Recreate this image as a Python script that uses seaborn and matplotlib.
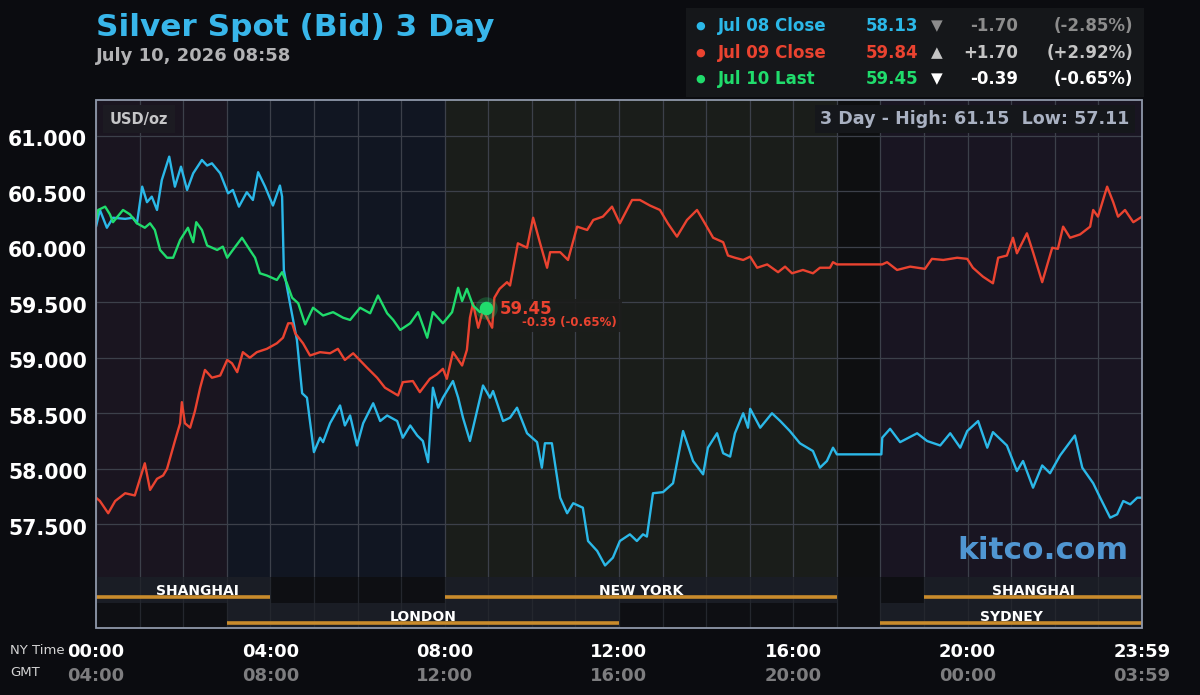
import matplotlib
matplotlib.use("Agg")
import numpy as np
import pandas as pd
import seaborn as sns
import matplotlib.pyplot as plt
import matplotlib.transforms as mtrans
from matplotlib.patches import Rectangle

# ---- data (hours NY time, USD/oz) ----
jul08_hours = [0.00, 0.09, 0.25, 0.39, 0.67, 0.85, 0.94, 1.06, 1.17, 1.28, 1.40, 1.51, 1.68, 1.81, 1.95,
               2.09, 2.23, 2.43, 2.55, 2.66, 2.85, 3.03, 3.14, 3.28, 3.46, 3.60, 3.72, 3.88, 4.06, 4.22,
               4.27, 4.31, 4.45, 4.61, 4.73, 4.84, 5.00, 5.14, 5.21, 5.37, 5.60, 5.71, 5.83, 5.99, 6.13,
               6.36, 6.52, 6.68, 6.91, 7.04, 7.21, 7.37, 7.50, 7.62, 7.73, 7.85, 7.96, 8.19, 8.31, 8.42,
               8.58, 8.88, 9.04, 9.11, 9.34, 9.50, 9.66, 9.89, 10.12, 10.23, 10.30, 10.46, 10.65, 10.81,
               10.95, 11.17, 11.29, 11.50, 11.68, 11.86, 12.02, 12.25, 12.41, 12.55, 12.64, 12.78, 13.01,
               13.24, 13.47, 13.70, 13.93, 14.04, 14.25, 14.39, 14.55, 14.66, 14.85, 14.96, 15.01, 15.24,
               15.51, 15.70, 15.92, 16.15, 16.45, 16.61, 16.77, 16.91, 17.00, 18.02, 18.04, 18.22, 18.45,
               18.84, 19.07, 19.37, 19.60, 19.83, 19.99, 20.24, 20.45, 20.58, 20.90, 21.13, 21.27, 21.50,
               21.71, 21.89, 22.12, 22.46, 22.63, 22.88, 23.04, 23.27, 23.43, 23.57, 23.73, 23.89, 24.00]
jul08_price = [60.18, 60.33, 60.17, 60.26, 60.25, 60.26, 60.21, 60.54, 60.40, 60.45, 60.33, 60.60, 60.81, 60.54, 60.72,
               60.51, 60.66, 60.78, 60.73, 60.75, 60.66, 60.48, 60.51, 60.36, 60.49, 60.42, 60.67, 60.54, 60.37, 60.55,
               60.45, 59.79, 59.49, 59.16, 58.68, 58.64, 58.15, 58.28, 58.24, 58.41, 58.57, 58.39, 58.48, 58.21, 58.41,
               58.59, 58.43, 58.48, 58.43, 58.28, 58.39, 58.30, 58.25, 58.06, 58.73, 58.55, 58.64, 58.79, 58.64, 58.46,
               58.25, 58.75, 58.64, 58.70, 58.43, 58.46, 58.55, 58.32, 58.24, 58.01, 58.23, 58.23, 57.74, 57.60,
               57.69, 57.65, 57.35, 57.26, 57.13, 57.20, 57.35, 57.41, 57.35, 57.41, 57.39, 57.78, 57.79,
               57.87, 58.34, 58.07, 57.95, 58.19, 58.32, 58.14, 58.11, 58.32, 58.50, 58.37, 58.54, 58.37,
               58.50, 58.43, 58.34, 58.23, 58.16, 58.01, 58.07, 58.19, 58.13, 58.13, 58.28, 58.36, 58.24,
               58.32, 58.25, 58.21, 58.32, 58.19, 58.34, 58.43, 58.19, 58.33, 58.21, 57.98, 58.07, 57.83,
               58.03, 57.96, 58.12, 58.30, 58.01, 57.87, 57.74, 57.56, 57.59, 57.71, 57.68, 57.74, 57.74]

jul09_hours = [0.00, 0.09, 0.28, 0.44, 0.67, 0.89, 1.12, 1.24, 1.40, 1.54, 1.63, 1.81, 1.93, 1.97, 2.04,
               2.16, 2.27, 2.39, 2.50, 2.66, 2.85, 3.01, 3.12, 3.24, 3.37, 3.53, 3.69, 3.92, 4.15, 4.29,
               4.41, 4.50, 4.57, 4.75, 4.91, 5.14, 5.37, 5.55, 5.71, 5.90, 6.22, 6.45, 6.63, 6.93, 7.04,
               7.27, 7.43, 7.66, 7.82, 7.96, 8.05, 8.19, 8.40, 8.51, 8.58, 8.65, 8.77, 8.88, 9.09, 9.14,
               9.26, 9.43, 9.50, 9.68, 9.89, 10.03, 10.19, 10.35, 10.42, 10.65, 10.83, 11.04, 11.27, 11.41, 11.63,
               11.84, 12.02, 12.30, 12.48, 12.71, 12.94, 13.12, 13.33, 13.56, 13.79, 13.97, 14.16, 14.39,
               14.50, 14.66, 14.85, 15.01, 15.17, 15.40, 15.65, 15.81, 15.97, 16.22, 16.45, 16.61, 16.84,
               16.91, 17.00, 18.04, 18.15, 18.38, 18.68, 19.02, 19.18, 19.44, 19.76, 19.99, 20.12, 20.35,
               20.58, 20.70, 20.90, 21.04, 21.13, 21.36, 21.50, 21.71, 21.94, 22.07, 22.19, 22.35, 22.58,
               22.81, 22.88, 22.99, 23.20, 23.34, 23.45, 23.61, 23.80, 24.00]
jul09_price = [57.74, 57.71, 57.60, 57.71, 57.78, 57.76, 58.05, 57.81, 57.91, 57.94, 58.00, 58.25, 58.41, 58.60, 58.41,
               58.37, 58.52, 58.73, 58.89, 58.82, 58.84, 58.98, 58.95, 58.87, 59.05, 59.00, 59.05, 59.08, 59.13, 59.18,
               59.31, 59.31, 59.22, 59.13, 59.02, 59.05, 59.04, 59.08, 58.98, 59.04, 58.91, 58.82, 58.73, 58.66, 58.78,
               58.79, 58.69, 58.81, 58.85, 58.90, 58.81, 59.05, 58.93, 59.07, 59.36, 59.49, 59.27, 59.43, 59.27, 59.54,
               59.62, 59.68, 59.65, 60.03, 59.99, 60.26, 60.03, 59.81, 59.95, 59.95, 59.88, 60.18, 60.15, 60.24, 60.27,
               60.36, 60.21, 60.42, 60.42, 60.37, 60.33, 60.21, 60.09, 60.24, 60.33, 60.21, 60.08, 60.04,
               59.92, 59.90, 59.88, 59.91, 59.81, 59.84, 59.77, 59.82, 59.76, 59.79, 59.76, 59.81, 59.81,
               59.86, 59.84, 59.84, 59.86, 59.79, 59.82, 59.80, 59.89, 59.88, 59.90, 59.89, 59.81, 59.73,
               59.67, 59.90, 59.92, 60.08, 59.94, 60.12, 59.95, 59.68, 59.99, 59.98, 60.18, 60.08, 60.11,
               60.18, 60.33, 60.27, 60.54, 60.40, 60.27, 60.33, 60.22, 60.27]

jul10_hours = [0.00, 0.05, 0.21, 0.32, 0.39, 0.62, 0.78, 0.94, 1.12, 1.24, 1.35, 1.47, 1.63, 1.77, 1.93,
               2.11, 2.23, 2.30, 2.43, 2.55, 2.78, 2.91, 3.01, 3.14, 3.35, 3.53, 3.65, 3.76, 3.92, 4.15,
               4.27, 4.38, 4.50, 4.64, 4.80, 4.98, 5.21, 5.44, 5.67, 5.83, 6.06, 6.29, 6.47, 6.68, 6.82,
               6.98, 7.21, 7.39, 7.60, 7.73, 7.96, 8.17, 8.31, 8.40, 8.51, 8.65, 8.81, 8.95]
jul10_price = [60.24, 60.33, 60.36, 60.29, 60.22, 60.33, 60.29, 60.21, 60.17, 60.21, 60.15, 59.97, 59.90, 59.90, 60.06,
               60.17, 60.04, 60.22, 60.15, 60.01, 59.97, 60.00, 59.90, 59.97, 60.08, 59.97, 59.90, 59.76, 59.74, 59.70,
               59.77, 59.67, 59.54, 59.49, 59.30, 59.45, 59.38, 59.41, 59.36, 59.34, 59.45, 59.40, 59.56, 59.40, 59.34,
               59.25, 59.31, 59.41, 59.18, 59.41, 59.31, 59.41, 59.63, 59.51, 59.62, 59.47, 59.41, 59.45]

series_names = ["Jul 08 Close", "Jul 09 Close", "Jul 10 Last"]
series_colors = ["#2bb8e8", "#ea4330", "#20dc6c"]
last_values = ["58.13", "59.84", "59.45"]
change_values = ["-1.70", "+1.70", "-0.39"]
change_pcts = ["(-2.85%)", "(+2.92%)", "(-0.65%)"]
change_arrows = ["\u25BC", "\u25B2", "\u25BC"]
change_colors = ["#8c8c8c", "#c4c4c4", "#ffffff"]

y_ticks = [57.5, 58.0, 58.5, 59.0, 59.5, 60.0, 60.5, 61.0]
x_ticks = [0, 4, 8, 12, 16, 20, 24]
ny_labels = ["00:00", "04:00", "08:00", "12:00", "16:00", "20:00", "23:59"]
gmt_labels = ["04:00", "08:00", "12:00", "16:00", "20:00", "00:00", "03:59"]

# trading sessions: name, row (1 = upper, 0 = lower), start, end, label position
session_names = ["SHANGHAI", "NEW YORK", "SHANGHAI", "LONDON", "SYDNEY"]
session_rows = [1, 1, 1, 0, 0]
session_start = [0, 8, 19, 3, 18]
session_end = [4, 17, 24, 12, 24]
session_label_at = [2.32, 12.5, 21.5, 7.5, 21.0]

shade_start = [0, 3, 8, 17, 18]
shade_end = [3, 8, 17, 18, 24]
shade_colors = ["#1a1520", "#111622", "#1a1d1a", "#0e0f11", "#191522"]

day_high, day_low = 61.15, 57.11
last_hour, last_price = 8.95, 59.45

frames = []
for name, hrs, prc in zip(series_names, [jul08_hours, jul09_hours, jul10_hours],
                          [jul08_price, jul09_price, jul10_price]):
    frames.append(pd.DataFrame({"hour": hrs, "price": prc, "day": name}))
df = pd.concat(frames, ignore_index=True)

# ---- figure ----
sns.set_theme(style="dark")
plt.rcParams["font.family"] = ["DejaVu Sans"]
BG = "#0b0c10"
fig = plt.figure(figsize=(12, 6.95), dpi=100)
fig.patch.set_facecolor(BG)

W, H = 1200.0, 695.0
def fx(x):
    return x / W
def fy(y):
    return 1 - y / H

ax = fig.add_axes([fx(96), fy(577), 1046 / W, 477 / H])
axs = fig.add_axes([fx(96), fy(628), 1046 / W, 51 / H], sharex=ax)

ylo, yhi = 57.026, 61.32
ax.set_xlim(0, 24)
ax.set_ylim(ylo, yhi)
ax.set_facecolor("#0e0f11")
for s, e, c in zip(shade_start, shade_end, shade_colors):
    ax.axvspan(s, e, color=c, zorder=0, lw=0)

ax.set_xticks(range(0, 25))
ax.set_yticks(y_ticks)
ax.grid(True, color="#3c404a", lw=0.9, zorder=1)
ax.tick_params(labelbottom=False, labelleft=False, length=0)
for sp in ax.spines.values():
    sp.set_visible(False)

sns.lineplot(data=df, x="hour", y="price", hue="day", palette=series_colors, hue_order=series_names,
             estimator=None, sort=False, legend=False, linewidth=1.7, ax=ax, zorder=3)
ax.set_xlabel("")
ax.set_ylabel("")

# last price marker
ax.scatter([last_hour], [last_price], s=260, color=series_colors[2], alpha=0.25, lw=0, zorder=5)
ax.scatter([last_hour], [last_price], s=95, color=series_colors[2], lw=0, zorder=6)
box = Rectangle((fx(492), fy(332)), 130 / W, 33 / H, transform=fig.transFigure,
                facecolor="#1c1d1c", alpha=0.9, lw=0, zorder=2)
ax.add_artist(box)
box.set_clip_on(False)
fig.text(fx(500), fy(309), f"{last_price:.2f}", color=series_colors[1], fontsize=12,
         fontweight="bold", va="center", ha="left")
fig.text(fx(617), fy(323), f"{change_values[2]} {change_pcts[2]}", color=series_colors[1],
         fontsize=8.5, fontweight="bold", va="center", ha="right")

# inner boxes
ax.text(0.013, 0.96, "USD/oz", transform=ax.transAxes, color="#c6c6c8", fontsize=10.5,
        fontweight="bold", va="center", ha="left",
        bbox=dict(boxstyle="square,pad=0.45", fc="#1c1b22", ec="none"), zorder=7)
ax.text(0.988, 0.96, f"3 Day - High: {day_high:.2f}  Low: {day_low:.2f}", transform=ax.transAxes,
        color="#a9b1c2", fontsize=12.6, fontweight="bold", va="center", ha="right",
        bbox=dict(boxstyle="square,pad=0.3", fc="#15171b", ec="none"), zorder=7)
ax.text(0.987, 0.055, "kitco.com", transform=ax.transAxes, color="#5096d2", fontsize=22.5,
        fontweight="bold", va="center", ha="right", zorder=7)

# y tick labels (sit a few px under the grid line as in the reference)
ylab_tr = mtrans.blended_transform_factory(fig.transFigure, ax.transData) + \
    mtrans.ScaledTranslation(0, -4.5 / 100, fig.dpi_scale_trans)
for v in y_ticks:
    ax.text(fx(87), v, f"{v:.3f}", transform=ylab_tr, color="white", fontsize=14.8,
            fontweight="bold", ha="right", va="center", clip_on=False)

# session bars
axs.set_xlim(0, 24)
axs.set_ylim(0, 2)
axs.set_facecolor("#0e0f13")
axs.set_xticks(range(0, 25))
axs.set_yticks([])
axs.grid(True, axis="x", color="#24272e", lw=0.9, zorder=1)
axs.tick_params(labelbottom=False, labelleft=False, length=0)
for sp in axs.spines.values():
    sp.set_visible(False)
for name, row, s, e, lx in zip(session_names, session_rows, session_start, session_end, session_label_at):
    axs.add_patch(Rectangle((s, row), e - s, 1, facecolor="#1a1d25", lw=0, zorder=0.5))
    axs.plot([s, e], [row + 0.2, row + 0.2], color="#c98b2c", lw=2.6, solid_capstyle="butt", zorder=3)
    axs.text(lx, row + 0.45, name, color="white", fontsize=10, fontweight="bold",
             ha="center", va="center", zorder=4)

# frame around plot + sessions
frame = Rectangle((fx(96), fy(628)), 1046 / W, 528 / H, transform=fig.transFigure,
                  fill=False, ec="#8f98aa", lw=1.3)
fig.add_artist(frame)

# x labels
xlab_tr = mtrans.blended_transform_factory(ax.transData, fig.transFigure)
for t, ny, gmt in zip(x_ticks, ny_labels, gmt_labels):
    ax.text(t, fy(652), ny, transform=xlab_tr, color="white", fontsize=13, fontweight="bold",
            ha="center", va="center", clip_on=False)
    ax.text(t, fy(676), gmt, transform=xlab_tr, color="#7d7d7f", fontsize=13, fontweight="bold",
            ha="center", va="center", clip_on=False)
fig.text(fx(10), fy(650), "NY Time", color="#d4d4d4", fontsize=9.5, ha="left", va="center")
fig.text(fx(10), fy(673), "GMT", color="#d4d4d4", fontsize=9.5, ha="left", va="center")

# title
fig.text(fx(96), fy(28), "Silver Spot (Bid) 3 Day", color="#38b6ea", fontsize=22.4,
         fontweight="bold", ha="left", va="center")
fig.text(fx(96), fy(56), "July 10, 2026 08:58", color="#b2b2b4", fontsize=13,
         fontweight="bold", ha="left", va="center")

# legend panel
fig.add_artist(Rectangle((fx(686), fy(97)), 458 / W, 89 / H, transform=fig.transFigure,
                         facecolor="#15171a", lw=0))
for i, (name, col) in enumerate(zip(series_names, series_colors)):
    yy = fy(26 + i * 26.5)
    fig.text(fx(700), yy, "\u25CF", color=col, fontsize=8, ha="center", va="center")
    fig.text(fx(718), yy, name, color=col, fontsize=12, fontweight="bold", ha="left", va="center")
    fig.text(fx(918), yy, last_values[i], color=col, fontsize=12, fontweight="bold", ha="right", va="center")
    fig.text(fx(937), yy, change_arrows[i], color=change_colors[i], fontsize=11, ha="center", va="center")
    fig.text(fx(1018), yy, change_values[i], color=change_colors[i], fontsize=12, fontweight="bold",
             ha="right", va="center")
    fig.text(fx(1133), yy, change_pcts[i], color=change_colors[i], fontsize=12, fontweight="bold",
             ha="right", va="center")

fig.savefig("out.png", dpi=100, facecolor=BG)
